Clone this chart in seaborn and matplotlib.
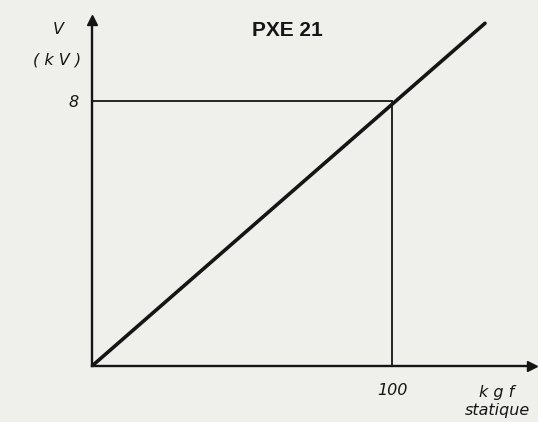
import matplotlib
matplotlib.use("Agg")
import matplotlib.pyplot as plt
import seaborn as sns
import pandas as pd

# data
force_kgf = [0, 131]
voltage_kv = [0, 10.35]
ref_force = 100
ref_voltage = 8
x_ticks = [100]
y_ticks = [8]
title = "PXE 21"

sns.set_style("white")
plt.rcParams['font.family'] = ['DejaVu Sans']

bg = "#efefec"
ink = "#151515"

fig = plt.figure(figsize=(5.38, 4.22), dpi=100, facecolor=bg)
ax = fig.add_axes([0.171, 0.1327, 0.818, 0.82])
ax.set_facecolor(bg)

df = pd.DataFrame({"F": force_kgf, "V": voltage_kv})
sns.lineplot(data=df, x="F", y="V", ax=ax, color=ink, linewidth=2.6, zorder=3)

# reference rectangle
ax.plot([0, ref_force], [ref_voltage, ref_voltage], color=ink, lw=1.3, zorder=2)
ax.plot([ref_force, ref_force], [0, ref_voltage], color=ink, lw=1.3, zorder=2)

ax.set_xlim(0, 146.7)
ax.set_ylim(0, 10.45)

for s in ["top", "right"]:
    ax.spines[s].set_visible(False)
for s in ["left", "bottom"]:
    ax.spines[s].set_linewidth(1.7)
    ax.spines[s].set_color(ink)

# arrowheads
ax.plot(1, 0, ">", color=ink, ms=7, transform=ax.transAxes, clip_on=False)
ax.plot(0, 1, "^", color=ink, ms=7, transform=ax.transAxes, clip_on=False)

ax.set_xticks(x_ticks)
ax.set_xticklabels([str(t) for t in x_ticks], fontstyle="italic", fontsize=11.5)
ax.set_yticks(y_ticks)
ax.set_yticklabels([str(t) for t in y_ticks], fontstyle="italic", fontsize=11.5)
ax.tick_params(axis="both", length=2, width=1, color=ink, pad=8, labelcolor=ink)
ax.tick_params(axis="x", length=0, pad=12)
ax.set_xlabel("")
ax.set_ylabel("")

fig.text(58 / 538, 1 - 30 / 422, "V", fontstyle="italic", fontsize=11.5,
         ha="center", va="center", color=ink)
fig.text(57 / 538, 1 - 60 / 422, "( k V )", fontstyle="italic", fontsize=11.5,
         ha="center", va="center", color=ink)
fig.text(497 / 538, 1 - 392 / 422, "k g f", fontstyle="italic", fontsize=11.5,
         ha="center", va="center", color=ink)
fig.text(497 / 538, 1 - 411 / 422, "statique", fontstyle="italic", fontsize=11.5,
         ha="center", va="center", color=ink)
fig.text(287 / 538, 1 - 30 / 422, title, fontweight="bold", fontsize=15,
         family="Liberation Sans", ha="center", va="center", color=ink)

fig.savefig("out.png", dpi=100, facecolor=bg)
